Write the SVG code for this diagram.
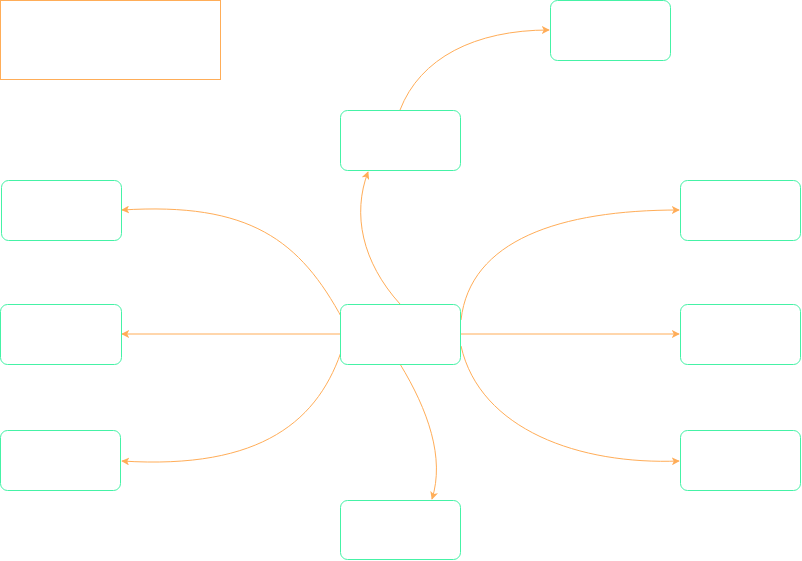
<svg xmlns="http://www.w3.org/2000/svg" width="802" height="561" viewBox="0 0 802 561">
  <defs>
    <marker id="arrow" viewBox="0 0 10 10" refX="9" refY="5" markerWidth="8" markerHeight="8" markerUnits="userSpaceOnUse" orient="auto">
      <path d="M0,0 L10,5 L0,10 L2.5,5 Z" fill="#ffad58"/>
    </marker>
  </defs>
  <style>
    .node rect { fill: #ffffff; stroke: #45f2a6; stroke-width: 1; }
    .frame { fill: none; stroke: #ffad58; stroke-width: 1; }
    .edges path { fill: none; stroke: #ffad58; stroke-width: 1; marker-end: url(#arrow); }
  </style>
  <rect width="802" height="561" fill="#ffffff"/>

  <rect class="frame" x="0.5" y="0.5" width="220" height="79"/>

  <g class="edges">
    <path d="M400,304 C362,262 352,214 368,172"/>
    <path d="M400,110 C420,58 475,30 549,30"/>
    <path d="M340,334 L122,334"/>
    <path d="M343,320 C300,240 250,202 122,210"/>
    <path d="M343,346 C320,420 262,470 122,461"/>
    <path d="M400,364 C428,410 445,458 432,499"/>
    <path d="M461,334 L679,334"/>
    <path d="M461,320 C470,240 560,210 679,210"/>
    <path d="M461,346 C480,430 580,465 679,461"/>
  </g>

  <g id="node-center" class="node"><rect x="340.5" y="304.5" width="120" height="60" rx="7"/></g>
  <g id="node-top" class="node"><rect x="340.5" y="110.5" width="120" height="60" rx="7"/></g>
  <g id="node-top-right" class="node"><rect x="550.5" y="0.5" width="120" height="60" rx="7"/></g>
  <g id="node-left-1" class="node"><rect x="1.5" y="180.5" width="120" height="60" rx="7"/></g>
  <g id="node-left-2" class="node"><rect x="0.5" y="304.5" width="121" height="60" rx="7"/></g>
  <g id="node-left-3" class="node"><rect x="0.5" y="430.5" width="120" height="60" rx="7"/></g>
  <g id="node-bottom" class="node"><rect x="340.5" y="500.5" width="120" height="59" rx="7"/></g>
  <g id="node-right-1" class="node"><rect x="680.5" y="180.5" width="120" height="60" rx="7"/></g>
  <g id="node-right-2" class="node"><rect x="680.5" y="304.5" width="120" height="60" rx="7"/></g>
  <g id="node-right-3" class="node"><rect x="680.5" y="430.5" width="120" height="60" rx="7"/></g>
</svg>
